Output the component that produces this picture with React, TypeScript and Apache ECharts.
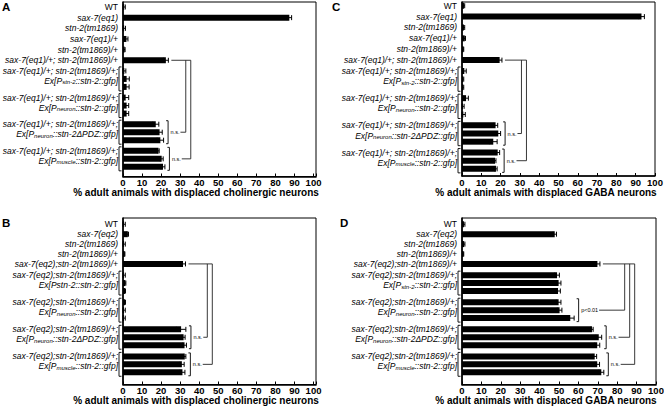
import React, { useEffect, useRef } from 'react';
import * as echarts from 'echarts';

// ---------------- DATA ----------------
const tickLabels = [0, 10, 20, 30, 40, 50, 60, 70, 80, 90, 100];

// Panel A (cholinergic, eq1)
const aRows = ['WT', 'sax-7(eq1)', 'stn-2(tm1869)', 'sax-7(eq1)/+', 'stn-2(tm1869)/+', 'sax-7(eq1)/+; stn-2(tm1869)/+'];
const aRowValues = [0.6, 87.3, 0.6, 1.8, 0.8, 22.5];
const aRowErrors = [0.6, 1.2, 0.7, 0.8, 0.3, 1.3];
const aGroupLine1 = 'sax-7(eq1)/+; stn-2(tm1869)/+;';
const aGroupLine2 = ['Ex[P_{stn-2}::stn-2::gfp]', 'Ex[P_{neuron}::stn-2::gfp]', 'Ex[P_{neuron}::stn-2ΔPDZ::gfp]', 'Ex[P_{muscle}::stn-2::gfp]'];
const aGroupValues = [[0.7, 1.9, 1.9], [1.4, 1.9, 1.9], [17.2, 19.2, 19.6], [18.6, 20.3, 21.0]];
const aGroupErrors = [[0.8, 1.4, 1.3], [1.6, 1.1, 1.1], [1.6, 1.4, 1.7], [0.4, 0.8, 1.0]];
const aComparisons = [{ group: 2, label: 'n.s.' }, { group: 3, label: 'n.s.' }];

// Panel B (cholinergic, eq2)
const bRows = ['WT', 'sax-7(eq2)', 'stn-2(tm1869)', 'stn-2(tm1869)/+', 'sax-7(eq2);stn-2(tm1869)/+'];
const bRowValues = [0.5, 2.5, 0.5, 0.8, 31.5];
const bRowErrors = [0.7, 0.4, 0.7, 0.2, 1.3];
const bGroupLine1 = 'sax-7(eq2);stn-2(tm1869)/+;';
const bGroupLine2 = ['Ex[Pstn-2::stn-2::gfp]', 'Ex[P_{neuron}::stn-2::gfp]', 'Ex[P_{neuron}::stn-2ΔPDZ::gfp]', 'Ex[P_{muscle}::stn-2::gfp]'];
const bGroupValues = [[0.5, 1.2, 1.0], [1.0, 0.5, 0.5], [30.5, 31.8, 32.3], [32.4, 30.9, 31.2]];
const bGroupErrors = [[0.7, 0.3, 0.3], [0.3, 0.7, 0.7], [2.5, 0.8, 1.0], [0.6, 1.2, 1.3]];
const bComparisons = [{ group: 2, label: 'n.s.' }, { group: 3, label: 'n.s.' }];

// Panel C (GABA, eq1)
const cRows = ['WT', 'sax-7(eq1)', 'stn-2(tm1869)', 'sax-7(eq1)/+', 'stn-2(tm1869)/+', 'sax-7(eq1)/+; stn-2(tm1869)/+'];
const cRowValues = [1.0, 93.0, 1.0, 1.4, 0.7, 19.5];
const cRowErrors = [0.4, 1.5, 0.4, 0.4, 0.2, 1.2];
const cGroupLine1 = 'sax-7(eq1)/+; stn-2(tm1869)/+;';
const cGroupLine2 = ['Ex[P_{stn-2}::stn-2::gfp]', 'Ex[P_{neuron}::stn-2::gfp]', 'Ex[P_{neuron}::stn-2ΔPDZ::gfp]', 'Ex[P_{muscle}::stn-2::gfp]'];
const cGroupValues = [[1.2, 0.6, 0.6], [2.1, 0.5, 0.7], [17.4, 18.8, 16.2], [18.5, 17.1, 17.6]];
const cGroupErrors = [[1.0, 0.3, 0.3], [1.2, 0.6, 1.0], [1.1, 1.2, 2.0], [1.0, 0.5, 0.6]];
const cComparisons = [{ group: 2, label: 'n.s.' }, { group: 3, label: 'n.s.' }];

// Panel D (GABA, eq2)
const dRows = ['WT', 'sax-7(eq2)', 'stn-2(tm1869)', 'stn-2(tm1869)/+', 'sax-7(eq2);stn-2(tm1869)/+'];
const dRowValues = [1.0, 47.8, 1.1, 0.7, 69.8];
const dRowErrors = [0.5, 0.9, 0.4, 0.2, 1.3];
const dGroupLine1 = 'sax-7(eq2);stn-2(tm1869)/+;';
const dGroupLine2 = ['Ex[P_{stn-2}::stn-2::gfp]', 'Ex[P_{neuron}::stn-2::gfp]', 'Ex[P_{neuron}::stn-2ΔPDZ::gfp]', 'Ex[P_{muscle}::stn-2::gfp]'];
const dGroupValues = [[49.0, 49.8, 49.5], [49.8, 50.3, 55.8], [67.0, 70.5, 69.7], [68.4, 69.7, 71.8]];
const dGroupErrors = [[1.2, 1.2, 1.2], [1.2, 1.2, 2.0], [0.6, 1.5, 1.3], [1.0, 1.2, 1.3]];
const dComparisons = [{ group: 1, label: 'p<0.01' }, { group: 2, label: 'n.s.' }, { group: 3, label: 'n.s.' }];

const titleCholinergic = '% adult animals with displaced cholinergic neurons';
const titleGABA = '% adult animals with displaced GABA neurons';

// ---------------- LAYOUT / STYLE ----------------
const FONT = '"Liberation Sans", Arial, Helvetica, sans-serif';

type Cmp = { group: number; label: string };
type PanelDef = {
  letter: string; title: string;
  rows: string[]; rowValues: number[]; rowErrors: number[];
  line1: string; line2: string[]; groupValues: number[][]; groupErrors: number[][];
  comparisons: Cmp[];
  left: number; top: number; width: number; height: number; xMax: number;
  slots: number; pad: number; single: number; gap0: number; within: number; gap: number; line2Off: number;
  titleX: number; titleY: number; letterX: number; letterY: number;
};

const panels: PanelDef[] = [
  {
    letter: 'A', title: titleCholinergic, rows: aRows, rowValues: aRowValues, rowErrors: aRowErrors,
    line1: aGroupLine1, line2: aGroupLine2, groupValues: aGroupValues, groupErrors: aGroupErrors, comparisons: aComparisons,
    left: 123, top: 2, width: 193, height: 174.5, xMax: 101.3,
    slots: 262, pad: 7, single: 16, gap0: 16, within: 12, gap: 16, line2Off: 15,
    titleX: 196, titleY: 192, letterX: 2, letterY: 1,
  },
  {
    letter: 'B', title: titleCholinergic, rows: bRows, rowValues: bRowValues, rowErrors: bRowErrors,
    line1: bGroupLine1, line2: bGroupLine2, groupValues: bGroupValues, groupErrors: bGroupErrors, comparisons: bComparisons,
    left: 123, top: 218, width: 193, height: 166.5, xMax: 101.3,
    slots: 252, pad: 9, single: 15, gap0: 17, within: 12, gap: 17, line2Off: 15,
    titleX: 196, titleY: 400.5, letterX: 2, letterY: 217,
  },
  {
    letter: 'C', title: titleGABA, rows: cRows, rowValues: cRowValues, rowErrors: cRowErrors,
    line1: cGroupLine1, line2: cGroupLine2, groupValues: cGroupValues, groupErrors: cGroupErrors, comparisons: cComparisons,
    left: 462, top: 2, width: 193, height: 174, xMax: 100,
    slots: 256, pad: 5, single: 16, gap0: 16, within: 12, gap: 16, line2Off: 15,
    titleX: 546, titleY: 192, letterX: 332, letterY: 1,
  },
  {
    letter: 'D', title: titleGABA, rows: dRows, rowValues: dRowValues, rowErrors: dRowErrors,
    line1: dGroupLine1, line2: dGroupLine2, groupValues: dGroupValues, groupErrors: dGroupErrors, comparisons: dComparisons,
    left: 462, top: 218, width: 194, height: 166.5, xMax: 100,
    slots: 252, pad: 9, single: 15, gap0: 17, within: 12, gap: 17, line2Off: 15,
    titleX: 546, titleY: 400.5, letterX: 340, letterY: 217,
  },
];

let measureCtx: CanvasRenderingContext2D | null = null;
function measure(text: string, size: number): number {
  if (!measureCtx) measureCtx = document.createElement('canvas').getContext('2d');
  if (!measureCtx) return text.length * size * 0.5;
  measureCtx.font = `${size}px ${FONT}`;
  return measureCtx.measureText(text).width;
}

function toRich(t: string): string {
  if (t === 'WT') return '{n|WT}';
  const parts = t.split(/_\{([^}]*)\}/);
  return parts.map((p, i) => (p ? (i % 2 ? `{s|${p}}` : `{i|${p}}`) : '')).join('');
}

function layoutSlots(p: PanelDef) {
  const rowSlots: number[] = [];
  let s = p.pad;
  p.rows.forEach((_, i) => { if (i > 0) s += p.single; rowSlots.push(s); });
  const groupSlots: number[][] = [];
  p.groupValues.forEach((vals, g) => {
    s += g === 0 ? p.gap0 : p.gap;
    const arr: number[] = [];
    vals.forEach((_, k) => { if (k > 0) s += p.within; arr.push(s); });
    groupSlots.push(arr);
  });
  const labels: string[] = new Array(p.slots).fill('');
  rowSlots.forEach((sl, i) => { labels[sl] = toRich(p.rows[i]); });
  groupSlots.forEach((arr, g) => {
    labels[arr[0]] = toRich(p.line1);
    labels[arr[0] + p.line2Off] = toRich(p.line2[g]);
  });
  return { rowSlots, groupSlots, labels };
}

function buildOption() {
  const grid: any[] = [];
  const xAxis: any[] = [];
  const yAxis: any[] = [];
  const series: any[] = [];
  const graphic: any[] = [];
  const richStyles = {
    n: { fontSize: 8.5, fontFamily: FONT, color: '#000', lineHeight: 9 },
    i: { fontSize: 8.5, fontStyle: 'italic', fontFamily: FONT, color: '#000', lineHeight: 9 },
    s: { fontSize: 6, fontStyle: 'italic', fontFamily: FONT, color: '#000', lineHeight: 4, verticalAlign: 'bottom' },
  };

  panels.forEach((p, pi) => {
    const { rowSlots, groupSlots, labels } = layoutSlots(p);
    const cats = labels.map((_, i) => `s${i}`);
    grid.push({
      left: p.left, top: p.top, width: p.width, height: p.height,
      show: true, borderColor: '#000', borderWidth: 1, backgroundColor: 'transparent',
      containLabel: false, outerBoundsMode: 'none',
    });
    xAxis.push({
      type: 'value', gridIndex: pi, min: 0, max: p.xMax, interval: 10,
      axisLine: { show: true, onZero: false, lineStyle: { color: '#000', width: 1.6 } },
      axisTick: { show: true, inside: true, length: 3, lineStyle: { color: '#000', width: 1 } },
      axisLabel: {
        show: true, margin: 1.5, color: '#000', fontWeight: 'bold', fontSize: 9.5, fontFamily: FONT, lineHeight: 9,
        formatter: (v: number) => (tickLabels.indexOf(v) >= 0 ? String(v) : ''),
      },
      splitLine: { show: false },
    });
    yAxis.push({
      type: 'category', gridIndex: pi, data: cats, inverse: true,
      axisLine: { show: true, lineStyle: { color: '#000', width: 1.6 } },
      axisTick: { show: false },
      splitLine: { show: false },
      axisLabel: {
        show: true, interval: 0, margin: 5,
        formatter: (_v: string, idx: number) => labels[idx] || '',
        rich: richStyles,
      },
    });

    // bars
    const barData: any[] = new Array(p.slots).fill('-');
    const errData: number[][] = [];
    rowSlots.forEach((sl, i) => {
      barData[sl] = p.rowValues[i];
      errData.push([sl, Math.max(0, p.rowValues[i] - p.rowErrors[i]), p.rowValues[i] + p.rowErrors[i]]);
    });
    groupSlots.forEach((arr, g) => arr.forEach((sl, k) => {
      const v = p.groupValues[g][k], e = p.groupErrors[g][k];
      barData[sl] = v;
      errData.push([sl, Math.max(0, v - e), v + e]);
    }));
    series.push({
      type: 'bar', xAxisIndex: pi, yAxisIndex: pi, data: barData, barWidth: 6,
      itemStyle: { color: '#000' }, silent: true,
    });
    series.push({
      type: 'custom', xAxisIndex: pi, yAxisIndex: pi, data: errData, silent: true, z: 5,
      encode: { x: [1, 2], y: 0 },
      renderItem: (_params: any, api: any) => {
        const sl = api.value(0);
        const p1 = api.coord([api.value(1), sl]);
        const p2 = api.coord([api.value(2), sl]);
        const h = 2.5;
        const st = { stroke: '#000', lineWidth: 1 };
        return {
          type: 'group', children: [
            { type: 'line', shape: { x1: p1[0], y1: p1[1], x2: p2[0], y2: p2[1] }, style: st },
            { type: 'line', shape: { x1: p1[0], y1: p1[1] - h, x2: p1[0], y2: p1[1] + h }, style: st },
            { type: 'line', shape: { x1: p2[0], y1: p2[1] - h, x2: p2[0], y2: p2[1] + h }, style: st },
          ],
        };
      },
    });
    // brackets and significance annotations
    series.push({
      type: 'custom', xAxisIndex: pi, yAxisIndex: pi, data: [[0, 0]], silent: true, z: 6, clip: false,
      encode: { x: 0, y: 1 },
      renderItem: (_params: any, api: any) => {
        const c = (v: number, s: number) => api.coord([v, s]);
        const children: any[] = [];
        const lineStyle = { stroke: '#222', lineWidth: 0.9 };
        const line = (x1: number, y1: number, x2: number, y2: number) =>
          children.push({ type: 'line', shape: { x1, y1, x2, y2 }, style: lineStyle });
        const axisX = c(0, 0)[0];
        groupSlots.forEach((arr) => {
          const yT = c(0, arr[0])[1] - 4;
          const yB = c(0, arr[arr.length - 1])[1] + 4;
          children.push({
            type: 'polyline',
            shape: { points: [[axisX - 1.5, yT], [axisX - 4, yT], [axisX - 4, yB], [axisX - 1.5, yB]] },
            style: { stroke: '#000', fill: null, lineWidth: 0.9 },
          });
        });
        const fs = 5.5;
        const items = p.comparisons.map((cmp) => {
          const g = cmp.group;
          const ends = p.groupValues[g].map((v, k) => v + p.groupErrors[g][k]);
          const xB = c(Math.max(...ends), 0)[0] + 4.5;
          const arr = groupSlots[g];
          const yT = c(0, arr[0])[1] - 3.5;
          const yB = c(0, arr[arr.length - 1])[1] + 3.5;
          const yM = c(0, arr[1])[1];
          const tx = xB + 2.5;
          const tw = measure(cmp.label, fs);
          return { xB, yT, yB, yM, tx, tw, label: cmp.label };
        });
        const col0 = Math.max(...items.map((it) => it.tx + it.tw)) + 5;
        const ri = p.rows.length - 1;
        const refY = c(0, rowSlots[ri])[1];
        const refX = c(p.rowValues[ri] + p.rowErrors[ri], 0)[0] + 3;
        const lastCol = col0 + 5 * (items.length - 1);
        line(refX, refY, lastCol, refY);
        items.forEach((it, k) => {
          const cx = col0 + 5 * k;
          children.push({
            type: 'polyline',
            shape: { points: [[it.xB - 2, it.yT], [it.xB, it.yT], [it.xB, it.yB], [it.xB - 2, it.yB]] },
            style: { stroke: '#000', fill: null, lineWidth: 0.9 },
          });
          children.push({
            type: 'text', x: it.tx, y: it.yM,
            style: { text: it.label, fontSize: fs, fontFamily: FONT, fill: '#000', align: 'left', verticalAlign: 'middle' },
          });
          line(it.tx + it.tw + 1, it.yM, cx, it.yM);
          line(cx, refY, cx, it.yM);
        });
        return { type: 'group', children };
      },
    });

    graphic.push({
      type: 'text', x: p.titleX, y: p.titleY, silent: true,
      style: {
        text: p.title, fontSize: 10, fontWeight: 'bold', fontFamily: FONT, fill: '#000', lineHeight: 10,
        align: 'center', verticalAlign: 'middle', textAlign: 'center', textVerticalAlign: 'middle',
      },
    });
    graphic.push({
      type: 'text', x: p.letterX, y: p.letterY, silent: true,
      style: {
        text: p.letter, fontSize: 11.5, fontWeight: 'bold', fontFamily: FONT, fill: '#000',
        align: 'left', verticalAlign: 'top', textAlign: 'left', textVerticalAlign: 'top',
      },
    });
  });

  return {
    animation: false,
    backgroundColor: '#fff',
    textStyle: { fontFamily: FONT, color: '#000' },
    grid, xAxis, yAxis, series, graphic,
  };
}

export default function App() {
  const ref = useRef<HTMLDivElement>(null);
  useEffect(() => {
    document.body.style.margin = '0';
    if (!ref.current) return;
    const chart = echarts.init(ref.current, undefined, { renderer: 'svg' });
    chart.setOption(buildOption() as any);
    return () => chart.dispose();
  }, []);
  return (
    <div
      ref={ref}
      style={{ position: 'fixed', left: 0, top: 0, width: 664, height: 407, background: '#fff' }}
    />
  );
}
